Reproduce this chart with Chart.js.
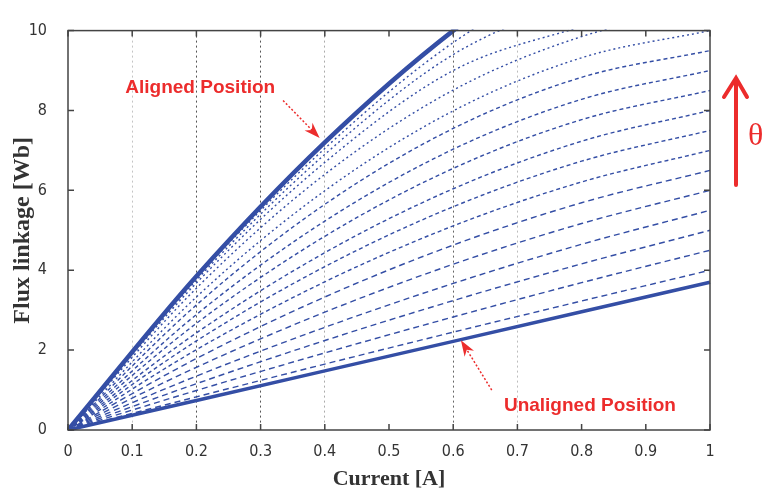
<!DOCTYPE html>
<html>
<head>
<meta charset="utf-8">
<script src="https://cdn.jsdelivr.net/npm/chart.js@4.4.1/dist/chart.umd.min.js"></script>
<style>
    html, body { margin: 0; padding: 0; background: #fff; }
    #wrapper { width: 763px; height: 497px; }
</style>
</head>
<body>
<div id="wrapper"><canvas id="grafico" width="763" height="497"></canvas></div>
<script>
"use strict";
// correnti di campionamento [A]
const current = [0, 0.2, 0.4, 0.6, 0.8, 1.0];
const xTicks = [0, 0.1, 0.2, 0.3, 0.4, 0.5, 0.6, 0.7, 0.8, 0.9, 1];
const yTicks = [0, 2, 4, 6, 8, 10];

// flusso concatenato [Wb] per le due posizioni estreme
const unaligned = [0, 0.74, 1.48, 2.22, 2.96, 3.70];
const aligned = [0, 3.85, 7.20, 10.0, 12.2, 14.0];

// posizioni intermedie (dal basso verso l'alto)
const pos1 = [0, 0.83, 1.65, 2.45, 3.23, 4.00];
const pos2 = [0, 0.99, 1.93, 2.83, 3.69, 4.50];
const pos3 = [0, 1.16, 2.24, 3.24, 4.16, 5.00];
const pos4 = [0, 1.35, 2.57, 3.67, 4.65, 5.50];
const pos5 = [0, 1.57, 2.95, 4.15, 5.17, 6.00];
const pos6 = [0, 1.79, 3.33, 4.63, 5.69, 6.50];
const pos7 = [0, 2.01, 3.71, 5.11, 6.21, 7.00];
const pos8 = [0, 2.23, 4.09, 5.59, 6.73, 7.50];
const pos9 = [0, 2.43, 4.44, 6.04, 7.23, 8.00];
const pos10 = [0, 2.67, 4.85, 6.55, 7.77, 8.50];
const pos11 = [0, 2.89, 5.23, 7.03, 8.28, 9.00];
const pos12 = [0, 3.13, 5.65, 7.55, 8.83, 9.50];
const pos13 = [0, 3.33, 5.99, 7.99, 9.32, 10.00];
const pos14 = [0, 3.55, 6.40, 8.51, 9.85, 10.60];
const pos15 = [0, 3.68, 6.70, 9.00, 10.10, 11.0];
const pos16 = [0, 3.75, 6.90, 9.40, 10.80, 11.8];
const pos17 = [0, 3.80, 7.05, 9.70, 11.5, 12.8];
const intermedie = [pos1, pos2, pos3, pos4, pos5, pos6, pos7, pos8, pos9,
    pos10, pos11, pos12, pos13, pos14, pos15, pos16, pos17];

const BLU = "rgb(52, 78, 165)";
const ROSSO = "rgb(236, 44, 44)";

// griglia verticale solo su alcune tacche
const coloreGriglia = { 1: "#c4c4c4", 2: "#555", 3: "#555", 4: "#ababab", 6: "#666", 7: "#bdbdbd" };

function punti(serie) {
    return current.map((x, i) => ({ x: x, y: serie[i] }));
}

let datasets = [];
intermedie.forEach(function(serie, k) {
    let tratto = [6, 4];
    if (k >= 6) tratto = [4, 3];
    if (k >= 12) tratto = [2, 3];
    datasets.push({
        data: punti(serie),
        borderColor: BLU,
        borderWidth: 1.4,
        borderDash: tratto,
        order: 1
    });
});
datasets.push({ data: punti(unaligned), borderColor: BLU, borderWidth: 3.5, order: 0 });
datasets.push({ data: punti(aligned), borderColor: BLU, borderWidth: 4.5, order: 0 });

function freccia(ctx, x0, y0, x1, y1, lung, larg) {
    // linea puntinata + punta piena
    const ang = Math.atan2(y1 - y0, x1 - x0);
    const bx = x1 - Math.cos(ang) * lung * 0.7;
    const by = y1 - Math.sin(ang) * lung * 0.7;
    ctx.save();
    ctx.strokeStyle = ROSSO;
    ctx.fillStyle = ROSSO;
    ctx.lineWidth = 1.5;
    ctx.setLineDash([2, 2]);
    ctx.beginPath();
    ctx.moveTo(x0, y0);
    ctx.lineTo(bx, by);
    ctx.stroke();
    ctx.setLineDash([]);
    const cx = Math.cos(ang), cy = Math.sin(ang);
    ctx.beginPath();
    ctx.moveTo(x1, y1);
    ctx.lineTo(x1 - cx * lung - cy * larg / 2, y1 - cy * lung + cx * larg / 2);
    ctx.lineTo(bx, by);
    ctx.lineTo(x1 - cx * lung + cy * larg / 2, y1 - cy * lung - cx * larg / 2);
    ctx.closePath();
    ctx.fill();
    ctx.restore();
}

const cornice = {
    id: "cornice",
    afterDraw(chart) {
        const ctx = chart.ctx;
        const a = chart.chartArea;
        const sx = chart.scales.x;
        const sy = chart.scales.y;
        ctx.save();
        ctx.strokeStyle = "#444";
        ctx.lineWidth = 1.5;
        ctx.strokeRect(a.left, a.top, a.right - a.left, a.bottom - a.top);
        ctx.beginPath();
        for (const v of xTicks) {
            const px = sx.getPixelForValue(v);
            ctx.moveTo(px, a.bottom); ctx.lineTo(px, a.bottom - 6);
            ctx.moveTo(px, a.top); ctx.lineTo(px, a.top + 6);
        }
        for (const v of yTicks) {
            const py = sy.getPixelForValue(v);
            ctx.moveTo(a.left, py); ctx.lineTo(a.left + 6, py);
            ctx.moveTo(a.right, py); ctx.lineTo(a.right - 6, py);
        }
        ctx.stroke();

        // etichette rosse
        ctx.fillStyle = ROSSO;
        ctx.font = "bold 19px 'Liberation Sans', Arial, sans-serif";
        ctx.textAlign = "center";
        ctx.textBaseline = "middle";
        ctx.fillText("Aligned Position", sx.getPixelForValue(0.206), sy.getPixelForValue(8.58));
        ctx.fillText("Unaligned Position", sx.getPixelForValue(0.813), sy.getPixelForValue(0.6));

        freccia(ctx, sx.getPixelForValue(0.335), sy.getPixelForValue(8.25),
            sx.getPixelForValue(0.392), sy.getPixelForValue(7.31), 16, 11);
        freccia(ctx, sx.getPixelForValue(0.66), sy.getPixelForValue(1.0),
            sx.getPixelForValue(0.612), sy.getPixelForValue(2.25), 16, 11);

        // freccia grande con theta
        const fx = a.right + 26;
        ctx.strokeStyle = ROSSO;
        ctx.lineWidth = 4;
        ctx.lineCap = "round";
        ctx.beginPath();
        ctx.moveTo(fx, 185);
        ctx.lineTo(fx, 79);
        ctx.moveTo(fx - 12, 97);
        ctx.lineTo(fx, 78);
        ctx.lineTo(fx + 11, 97);
        ctx.stroke();
        ctx.font = "32px 'Liberation Serif', serif";
        ctx.textAlign = "left";
        ctx.fillText("\u03b8", 748, 137);
        ctx.restore();
    }
};

window.onload = function() {
    const _canvas = document.getElementById("grafico");
    const chart = new Chart(_canvas, {
        type: "line",
        data: { datasets: datasets },
        options: {
            responsive: false,
            animation: false,
            events: [],
            layout: { padding: { left: 0, right: 53, top: 13, bottom: 0 } },
            elements: {
                point: { radius: 0 },
                line: { cubicInterpolationMode: "monotone", fill: false }
            },
            datasets: { line: { clip: 1 } },
            plugins: { legend: { display: false }, tooltip: { enabled: false } },
            scales: {
                x: {
                    type: "linear",
                    min: 0,
                    max: 1,
                    afterFit: s => { s.height = 67; },
                    afterBuildTicks: s => { s.ticks = xTicks.map(v => ({ value: v })); },
                    ticks: {
                        padding: 12,
                        color: "#333",
                        font: { family: "'Liberation Sans Narrow', 'DejaVu Sans Condensed', sans-serif", size: 16 },
                        callback: v => String(Number(v.toFixed(1)))
                    },
                    grid: {
                        drawTicks: false,
                        lineWidth: 1,
                        color: c => (c.tick && coloreGriglia[Math.round(c.tick.value * 10)]) || "rgba(0,0,0,0)"
                    },
                    border: { display: false, dash: [2, 3] },
                    title: {
                        display: true,
                        text: "Current [A]",
                        color: "#333",
                        font: { family: "'Liberation Serif', serif", size: 22, weight: "bold" },
                        padding: { top: 0, bottom: 4 }
                    }
                },
                y: {
                    min: 0,
                    max: 10,
                    afterFit: s => { s.width = 68; },
                    afterBuildTicks: s => { s.ticks = yTicks.map(v => ({ value: v })); },
                    ticks: {
                        padding: 21,
                        color: "#333",
                        font: { family: "'Liberation Sans Narrow', 'DejaVu Sans Condensed', sans-serif", size: 16 }
                    },
                    grid: { display: false, drawTicks: false },
                    border: { display: false },
                    title: {
                        display: true,
                        text: "Flux linkage [Wb]",
                        color: "#333",
                        font: { family: "'Liberation Serif', serif", size: 24, weight: "bold" },
                        padding: { top: 8, bottom: 0 }
                    }
                }
            }
        },
        plugins: [cornice]
    });
};
</script>
</body>
</html>
